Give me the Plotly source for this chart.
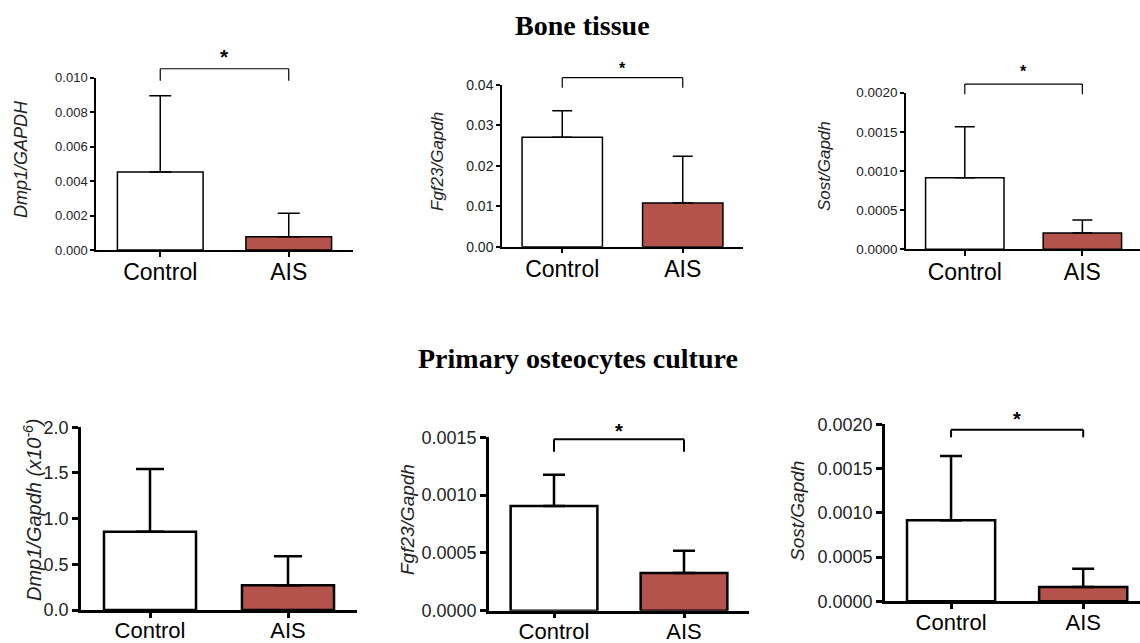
import plotly.graph_objects as go

# ---------------- data ----------------
categories = ["Control", "AIS"]

bone_dmp1_mean = [0.00452, 0.00077]
bone_dmp1_sd = [0.00443, 0.00136]
bone_fgf23_mean = [0.0271, 0.0108]
bone_fgf23_sd = [0.0065, 0.0116]
bone_sost_mean = [0.000914, 0.000208]
bone_sost_sd = [0.000651, 0.000166]

cult_dmp1_mean = [0.857, 0.270]
cult_dmp1_sd = [0.686, 0.318]
cult_fgf23_mean = [0.000906, 0.000326]
cult_fgf23_sd = [0.000271, 0.000193]
cult_sost_mean = [0.000915, 0.000162]
cult_sost_sd = [0.000727, 0.000207]

y_titles = ["<i>Dmp1/GAPDH</i>", "<i>Fgf23/Gapdh</i>", "<i>Sost/Gapdh</i>",
            "<i>Dmp1/Gapdh (x10<sup>-6</sup>)</i>", "<i>Fgf23/Gapdh</i>", "<i>Sost/Gapdh</i>"]
y_max = [0.010, 0.04, 0.002, 2.0, 0.0015, 0.002]
y_dtick = [0.002, 0.01, 0.0005, 0.5, 0.0005, 0.0005]
y_format = [".3f", ".2f", ".4f", ".1f", ".4f", ".4f"]
significant = [True, True, True, False, True, True]
section_titles = ["Bone tissue", "Primary osteocytes culture"]

means = [bone_dmp1_mean, bone_fgf23_mean, bone_sost_mean,
         cult_dmp1_mean, cult_fgf23_mean, cult_sost_mean]
sds = [bone_dmp1_sd, bone_fgf23_sd, bone_sost_sd,
       cult_dmp1_sd, cult_fgf23_sd, cult_sost_sd]

# ---------------- layout / style ----------------
W, H = 1140, 643
FONT = "Arial, Liberation Sans, sans-serif"
SERIF = "Times New Roman, Liberation Serif, serif"
RED = "#B4534C"

# pixel boxes: left, right, top(y max), bottom(y 0); x range right end
panels = [
    dict(l=96, r=353, t=77.7, b=250, xr=1.5, lw=1.5, ytf=13, xtf=23, xso=-4, ytl=4, cap=11,
         br=(0.01052, 0.00983), star=(0.01145, 21), title=(21, 159, 18)),
    dict(l=502, r=743, t=85, b=246.7, xr=1.5, lw=1.5, ytf=14, xtf=23, xso=-4, ytl=4, cap=10,
         br=(0.0418, 0.0393), star=(0.04494, 16), title=(437, 162, 17)),
    dict(l=906, r=1140, t=92.7, b=249.3, xr=1.49, lw=1.5, ytf=13.5, xtf=23, xso=-4, ytl=4, cap=10,
         br=(0.00211, 0.00198), star=(0.002314, 16), title=(825, 166, 17)),
    dict(l=81, r=357, t=427.3, b=610, xr=1.5, lw=2.5, ytf=18, xtf=22, xso=-6, ytl=6, cap=14,
         br=None, star=None, title=(32, 510, 20)),
    dict(l=489, r=749, t=437.3, b=610.7, xr=1.5, lw=2.5, ytf=18, xtf=22, xso=-6, ytl=6, cap=11,
         br=(0.001484, 0.001376), star=(0.00159, 20), title=(407, 520, 19)),
    dict(l=885, r=1140, t=424.3, b=601.3, xr=1.43, lw=2.5, ytf=18, xtf=22, xso=-5, ytl=6, cap=11,
         br=(0.001939, 0.001853), star=(0.002106, 20), title=(797, 511, 19)),
]

fig = go.Figure()
shapes = []
annotations = []

for i, p in enumerate(panels):
    n = i + 1
    xname = "x" if n == 1 else f"x{n}"
    yname = "y" if n == 1 else f"y{n}"
    xkey = "xaxis" if n == 1 else f"xaxis{n}"
    ykey = "yaxis" if n == 1 else f"yaxis{n}"

    fig.add_trace(go.Bar(
        x=categories, y=means[i], xaxis=xname, yaxis=yname,
        width=0.667,
        marker=dict(color=["white", RED], line=dict(color="black", width=p["lw"])),
        error_y=dict(type="data", symmetric=False, array=sds[i], arrayminus=[0, 0],
                     color="black", thickness=p["lw"], width=p["cap"]),
        showlegend=False, hoverinfo="skip",
    ))

    fig.layout[xkey] = dict(
        domain=[p["l"] / W, p["r"] / W], range=[-0.5, p["xr"]], anchor=yname,
        type="category", categoryorder="array", categoryarray=categories,
        automargin=False,
        showline=True, linecolor="black", linewidth=p["lw"],
        ticks="outside", ticklen=5, tickwidth=p["lw"], tickcolor="black",
        ticklabelstandoff=p["xso"],
        showgrid=False, zeroline=False,
        tickfont=dict(family=FONT, size=p["xtf"], color="black"),
    )
    fig.layout[ykey] = dict(
        domain=[1 - p["b"] / H, 1 - p["t"] / H], range=[0, y_max[i]], anchor=xname,
        automargin=False,
        tick0=0, dtick=y_dtick[i], tickformat=y_format[i],
        showline=True, linecolor="black", linewidth=p["lw"],
        ticks="outside", ticklen=p["ytl"], tickwidth=p["lw"], tickcolor="black",
        showgrid=False, zeroline=False,
        tickfont=dict(family=FONT, size=p["ytf"], color="#222222"),
    )

    tx, ty, tsz = p["title"]
    annotations.append(dict(
        text=y_titles[i], xref="paper", yref="paper", x=tx / W, y=1 - ty / H,
        xanchor="center", yanchor="middle", textangle=-90, showarrow=False,
        font=dict(family=FONT, size=tsz, color="#222222"),
    ))

    if significant[i]:
        top, leg = p["br"]
        ydref = f"{yname} domain"
        ftop, fleg = top / y_max[i], leg / y_max[i]
        line = dict(color="black", width=p["lw"] * 0.8)
        shapes.append(dict(type="line", xref=xname, yref=ydref, x0=0, x1=1, y0=ftop, y1=ftop, line=line))
        shapes.append(dict(type="line", xref=xname, yref=ydref, x0=0, x1=0, y0=ftop, y1=fleg, line=line))
        shapes.append(dict(type="line", xref=xname, yref=ydref, x0=1, x1=1, y0=ftop, y1=fleg, line=line))
        sy, ssz = p["star"]
        annotations.append(dict(
            text="<b>*</b>", xref=xname, yref=ydref, x=0.5, y=sy / y_max[i],
            xanchor="center", yanchor="middle", yshift=-0.2 * ssz, showarrow=False,
            font=dict(family=FONT, size=ssz, color="black"),
        ))

# section titles
annotations.append(dict(text="<b>" + section_titles[0] + "</b>", xref="paper", yref="paper",
                        x=582.5 / W, y=1 - 25 / H, xanchor="center", yanchor="middle",
                        showarrow=False, font=dict(family=SERIF, size=28, color="black")))
annotations.append(dict(text="<b>" + section_titles[1] + "</b>", xref="paper", yref="paper",
                        x=578 / W, y=1 - 358 / H, xanchor="center", yanchor="middle",
                        showarrow=False, font=dict(family=SERIF, size=28, color="black")))

fig.update_layout(
    template="none",
    width=W, height=H, margin=dict(l=0, r=0, t=0, b=0, pad=0), autosize=False,
    plot_bgcolor="white", paper_bgcolor="white",
    shapes=shapes, annotations=annotations, showlegend=False,
    font=dict(family=FONT),
)

fig.write_html("out.html")
